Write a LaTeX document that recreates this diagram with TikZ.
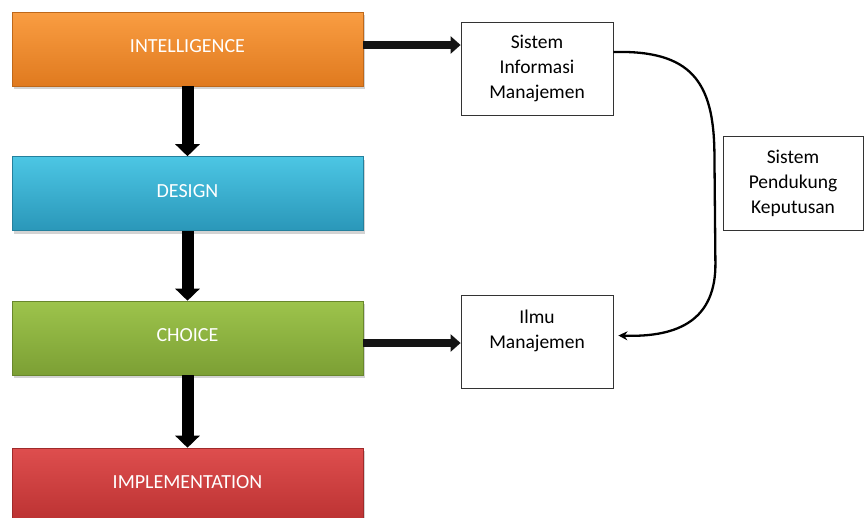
\documentclass[tikz,border=0pt]{standalone}
\usepackage{fontspec}
\setmainfont{Carlito}
\usetikzlibrary{arrows.meta,shadows,calc}
\definecolor{orT}{HTML}{F99D42}\definecolor{orB}{HTML}{E07A1F}
\definecolor{blT}{HTML}{4CC6E4}\definecolor{blB}{HTML}{2A97B9}
\definecolor{grT}{HTML}{9DC44C}\definecolor{grB}{HTML}{7C9F34}
\definecolor{rdT}{HTML}{DE4E4E}\definecolor{rdB}{HTML}{BB3232}
\newcommand{\uplift}[1]{\raisebox{5pt}{#1}}
\begin{document}
\begin{tikzpicture}[x=1pt,y=-1pt,
  phase/.style n args={2}{rectangle, minimum width=351pt, minimum height=74pt, inner sep=0pt,
    top color=#1, bottom color=#2, draw=#2!85!black, line width=0.6pt, text=white,
    font=\fontsize{20}{24}\selectfont,
    drop shadow={shadow xshift=2pt, shadow yshift=-3pt, opacity=0.35}},
  infobox/.style={rectangle, draw=black!80, line width=0.8pt, fill=white, inner sep=0pt,
    minimum width=152pt, minimum height=93pt, align=center, text=black,
    font=\fontsize{19.5}{25}\selectfont},
  varrow/.style={line width=12pt, -{Triangle[width=24pt,length=12pt]}, black},
  harrow/.style={line width=8pt, -{Triangle[width=17pt,length=10pt]}, black!92},
  curvearrow/.style={line width=2.3pt, -{Stealth[length=9pt,width=9pt]}, black}
]
\useasboundingbox (0,0) rectangle (864,517);
\clip (0,0) rectangle (864,517);

\node[phase={orT}{orB}] (intel) at (187.5,49) {\uplift{INTELLIGENCE}};
\node[phase={blT}{blB}] (design) at (187.5,193.5) {\uplift{DESIGN}};
\node[phase={grT}{grB}] (choice) at (187.5,338) {\uplift{CHOICE}};
\node[phase={rdT}{rdB}] (impl) at (187.5,485) {\uplift{IMPLEMENTATION}};

\node[infobox] (sim) at (537,68.5) {Sistem\\Informasi\\Manajemen};
\node[infobox] (ilmu) at (537,341.5) {Ilmu\\Manajemen\\\mbox{}};
\node[infobox, minimum width=140pt, minimum height=94pt] (spk) at (793,183) {Sistem\\Pendukung\\Keputusan};

\draw[varrow] (intel.south) -- (design.north);
\draw[varrow] (design.south) -- (choice.north);
\draw[varrow] (choice.south) -- (impl.north);

\draw[harrow] ([yshift=4pt]intel.east) -- ([yshift=4pt]intel.east -| sim.west);
\draw[harrow] ([yshift=-5pt]choice.east) -- ([yshift=-5pt]choice.east -| ilmu.west);

\coordinate (cs) at ([yshift=16.5pt]sim.east);
\coordinate (ce) at ([xshift=5pt,yshift=6pt]ilmu.east);
\draw[curvearrow] (cs) .. controls ($(cs)+(78,-2)$) and ($(cs)+(100,30)$) .. ($(cs)+(101,100)$)
  -- ($(cs)+(102,210)$) .. controls ($(cs)+(103,268)$) and ($(ce)+(60,2)$) .. (ce);
\end{tikzpicture}
\end{document}
